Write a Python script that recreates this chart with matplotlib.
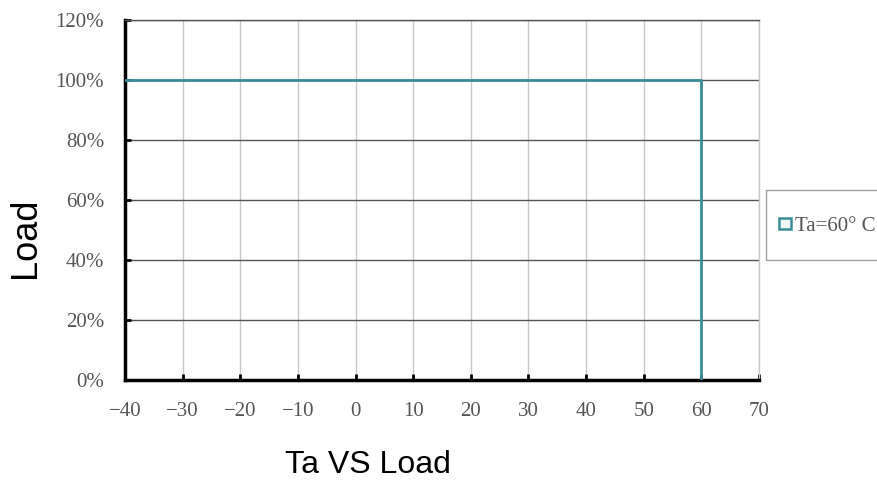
import matplotlib
matplotlib.use("Agg")
import matplotlib.pyplot as plt
from matplotlib.lines import Line2D
from matplotlib.markers import MarkerStyle
from matplotlib.transforms import Affine2D
from matplotlib.ticker import FuncFormatter

# Datos de la curva de derating
temperaturas = [-40, 60, 60]
carga = [100, 100, 0]
etiqueta = "Ta=60° C"

x_ticks = list(range(-40, 71, 10))
y_ticks = list(range(0, 121, 20))

color_linea = "#3a8e9a"

fig = plt.figure(figsize=(8.77, 4.8), dpi=100)
ax = fig.add_axes([0.1425, 0.2083, 0.723, 0.75])

ax.plot(temperaturas, carga, color=color_linea, linewidth=2, zorder=3)

ax.set_xlim(-40, 70)
ax.set_ylim(0, 120)
ax.set_xticks(x_ticks)
ax.set_yticks(y_ticks)
ax.yaxis.set_major_formatter(FuncFormatter(lambda v, p: f"{int(v)}%"))
ax.xaxis.set_major_formatter(FuncFormatter(lambda v, p: f"{int(v)}".replace("-", "\u2212")))

# rejilla: horizontales oscuras, verticales claras
ax.grid(axis="y", color="#555555", linewidth=1)
ax.grid(axis="x", color="#c8c8c8", linewidth=1)
ax.set_axisbelow(True)

ax.spines["top"].set_color("#555555")
ax.spines["top"].set_linewidth(1)
ax.spines["right"].set_color("#c8c8c8")
ax.spines["right"].set_linewidth(1)
ax.spines["left"].set_linewidth(2.5)
ax.spines["bottom"].set_linewidth(2.5)
ax.tick_params(direction="in", length=4, width=2, colors="black",
               labelcolor="#555555", labelsize=15)
for lbl in ax.get_xticklabels() + ax.get_yticklabels():
    lbl.set_fontfamily("Liberation Serif")
ax.tick_params(axis="x", pad=16)
ax.tick_params(axis="y", pad=15)

ax.set_ylabel("Load", fontsize=26, fontfamily="Liberation Sans")
ax.yaxis.set_label_coords(-0.129, 0.396)
ax.set_xlabel("Ta VS Load", fontsize=23, fontfamily="Liberation Sans")
ax.xaxis.set_label_coords(0.383, -0.195)

# marcador cuadrado bajado para quedar centrado con el texto
marcador = MarkerStyle("s", transform=Affine2D().translate(0, -0.65))
proxy = Line2D([], [], linestyle="none", marker=marcador, markersize=8,
               markerfacecolor="#eef6f6", markeredgecolor=color_linea, markeredgewidth=1.8)
leg = fig.legend([proxy], [etiqueta], loc="center left",
                 bbox_to_anchor=(766 / 877, 1 - 225 / 480), borderaxespad=0,
                 prop={"family": "Liberation Serif", "size": 15},
                 fancybox=False, edgecolor="#888888", borderpad=0.5,
                 handlelength=0.8, handleheight=3.2, handletextpad=0.1)
leg.get_frame().set_linewidth(1)
for t in leg.get_texts():
    t.set_color("#555555")

fig.savefig("out.png", dpi=100)
